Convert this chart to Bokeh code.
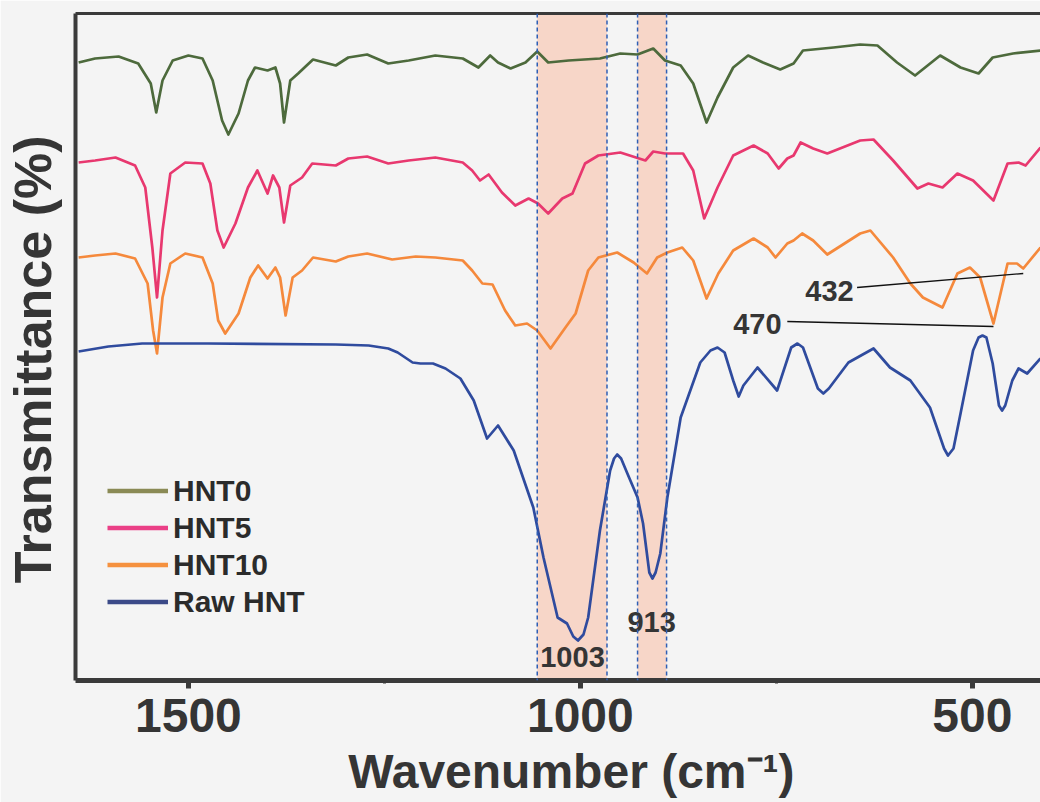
from bokeh.plotting import figure
from bokeh.models import (Range1d, FixedTicker, LinearAxis, Legend, LegendItem,
                          BoxAnnotation, Span)
from bokeh.core.properties import value
from bokeh.embed import file_html
from bokeh.resources import INLINE

# ---------------- data ----------------
# wavenumber (cm-1) and relative transmittance (offset traces, a.u.)
wn_hnt0 = [1640, 1619, 1589, 1564, 1548, 1541, 1533, 1520, 1500, 1482, 1469, 1457, 1449, 1436,
           1424, 1415, 1399, 1389, 1383, 1378, 1370, 1360, 1341, 1312, 1296, 1272, 1245, 1219,
           1185, 1150, 1130, 1115, 1105, 1089, 1070, 1055, 1041, 1015, 975, 949, 927, 907, 892,
           872, 856, 839, 825, 805, 786, 767, 745, 728, 716, 677, 643, 621, 596, 573, 541, 515,
           492, 474, 448, 413]
t_hnt0 = [618, 622, 624, 617, 597, 568, 600, 620, 625, 622, 600, 560, 546, 567,
          600, 613, 610, 613, 597, 558, 600, 607, 621, 615, 623, 626, 617, 620,
          625, 622, 613, 625, 618, 612, 618, 629, 618, 620, 622, 627, 626, 632, 620,
          615, 597, 558, 583, 613, 625, 618, 611, 617, 630, 633, 636, 635, 618, 605, 625, 613,
          607, 623, 627, 630]

wn_hnt5 = [1640, 1619, 1593, 1568, 1555, 1546, 1540, 1533, 1523, 1504, 1482, 1472, 1463, 1455,
           1440, 1424, 1412, 1399, 1392, 1384, 1378, 1370, 1355, 1342, 1312, 1296, 1272, 1245,
           1219, 1185, 1150, 1138, 1128, 1117, 1100, 1083, 1066, 1054, 1041, 1023, 1010, 994,
           977, 949, 917, 907, 892, 869, 856, 842, 825, 805, 779, 761, 747, 736, 728, 719, 703,
           685, 643, 626, 601, 570, 556, 538, 519, 499, 473, 455, 441, 432, 413]
t_hnt5 = [518, 520, 523, 515, 493, 433, 383, 450, 507, 518, 517, 497, 450, 433,
          457, 493, 510, 487, 505, 493, 458, 495, 503, 517, 515, 522, 524, 517,
          520, 523, 518, 510, 500, 506, 488, 475, 482, 477, 467, 482, 487, 517,
          525, 528, 520, 529, 527, 527, 510, 462, 493, 525, 535, 527, 512, 522, 525, 538, 532,
          527, 540, 541, 520, 492, 497, 493, 507, 500, 480, 517, 518, 515, 533]

wn_hnt10 = [1640, 1619, 1593, 1568, 1552, 1545, 1540, 1533, 1523, 1504, 1482, 1469, 1462, 1453,
            1436, 1421, 1411, 1399, 1389, 1383, 1376, 1367, 1355, 1341, 1312, 1296, 1272, 1240,
            1210, 1185, 1150, 1138, 1125, 1112, 1096, 1083, 1068, 1055, 1038, 1019, 1006, 990,
            977, 953, 932, 915, 902, 889, 870, 856, 839, 824, 805, 779, 761, 751, 736, 728, 717,
            703, 685, 643, 630, 601, 579, 563, 538, 519, 503, 490, 473, 455, 443, 435, 413]
t_hnt10 = [423, 425, 427, 422, 397, 350, 327, 383, 417, 427, 423, 397, 360, 347,
           367, 403, 415, 402, 413, 403, 365, 403, 410, 423, 419, 424, 427, 421,
           424, 423, 420, 410, 397, 396, 370, 355, 357, 350, 332, 353, 367, 410,
           423, 428, 418, 407, 423, 428, 433, 420, 382, 407, 430, 442, 433, 423, 437, 440, 447,
           440, 426, 447, 450, 423, 397, 383, 373, 407, 413, 403, 357, 417, 417, 412, 433]

wn_raw = [1640, 1602, 1559, 1475, 1312, 1270, 1245, 1233, 1214, 1204, 1188, 1172, 1153, 1136,
          1119, 1105, 1085, 1060, 1047, 1029, 1017, 1009, 1003, 996, 990, 975, 962, 957, 953,
          948, 940, 927, 920, 912, 908, 904, 898, 889, 872, 847, 834, 825, 816, 805, 798, 792,
          774, 749, 731, 723, 716, 697, 690, 683, 658, 626, 605, 579, 554, 536, 531, 524, 515,
          499, 492, 487, 482, 474, 466, 462, 458, 449, 441, 430, 413]
t_raw = [329, 334, 337, 337, 336, 335, 332, 328, 318, 317, 317, 312, 302, 280,
         242, 255, 230, 173, 123, 63, 57, 44, 40, 46, 63, 150, 210, 222, 226,
         222, 207, 183, 157, 108, 102, 108, 127, 183, 263, 318, 330, 333, 328, 300, 284, 295,
         313, 290, 333, 337, 333, 292, 287, 292, 318, 332, 313, 300, 273, 232, 225, 232, 267,
         330, 343, 345, 343, 317, 275, 270, 275, 300, 312, 307, 322]

series_names = ["HNT0", "HNT5", "HNT10", "Raw HNT"]
trace_colors = ["#4d6a3c", "#e8386f", "#f5893c", "#2f4b9e"]
legend_colors = ["#8a8a55", "#ea3f86", "#f5913f", "#3b4a88"]

band_left = [1055, 927]
band_right = [966, 890]

x_ticks = [1500, 1000, 500]
x_minor = [1250, 750]

peak_text_c = ["1003"]
peak_x_c = [1010]
peak_y_c = [24]
peak_text_l = ["913", "432", "470"]
peak_x_l = [940, 713, 805]
peak_y_l = [59, 390, 357]

lead_x0 = [647, 736]
lead_y0 = [393, 359]
lead_x1 = [435, 473]
lead_y1 = [407, 354]

FONT = "Liberation Sans"
TXT = "#353535"
AX = "#3a3a3a"
BG = "#f4f4f4"
NAN = float("nan")

p = figure(width=1040, height=802, x_range=Range1d(1644, 413), y_range=Range1d(0, 667),
           output_backend="svg", toolbar_location=None,
           min_border_left=75, min_border_right=0, min_border_top=13, min_border_bottom=122)
p.grid.visible = False
p.outline_line_color = None
p.background_fill_color = BG
p.border_fill_color = BG

# x axis
xa = p.xaxis[0]
xa.ticker = FixedTicker(ticks=x_ticks, minor_ticks=x_minor)
xa.axis_line_width = 5
xa.axis_line_color = AX
xa.major_tick_line_width = 5
xa.major_tick_line_color = AX
xa.major_tick_out = 8
xa.major_tick_in = 0
xa.minor_tick_line_width = 3
xa.minor_tick_line_color = AX
xa.minor_tick_out = 3
xa.minor_tick_in = 0
xa.major_label_text_font = FONT
xa.major_label_text_font_style = "bold"
xa.major_label_text_font_size = "48px"
xa.major_label_text_color = TXT
xa.major_label_standoff = 10
# leading no-break spaces nudge the centred label to the right, as in the reference
xa.axis_label = "\u00a0\u00a0Wavenumber (cm\u207b\u00b9)"
xa.axis_label_text_font = FONT
xa.axis_label_text_font_style = "bold"
xa.axis_label_text_font_size = "48px"
xa.axis_label_text_color = TXT
xa.axis_label_standoff = 10

# y axis
ya = p.yaxis[0]
ya.ticker = FixedTicker(ticks=[])
ya.axis_line_width = 4
ya.axis_line_color = AX
ya.major_tick_out = 0
ya.minor_tick_out = 0
ya.major_label_standoff = 0
ya.axis_label = "Transmittance (%)\u00a0\u2009"
ya.axis_label_text_font = FONT
ya.axis_label_text_font_style = "bold"
ya.axis_label_text_font_size = "52px"
ya.axis_label_text_color = TXT
ya.axis_label_standoff = 14

# top border
top = LinearAxis(ticker=FixedTicker(ticks=[]), axis_line_width=3, axis_line_color=AX,
                 major_tick_out=0, minor_tick_out=0, major_label_standoff=0)
p.add_layout(top, "above")

# shaded bands and dashed guides
for l, r in zip(band_left, band_right):
    p.add_layout(BoxAnnotation(left=l, right=r, fill_color="#f7d3c3", fill_alpha=0.9,
                               line_color=None, level="underlay"))
for loc in band_left + band_right:
    p.add_layout(Span(location=loc, dimension="height", line_color="#2f5fb5",
                      line_dash="4 3", line_width=1.5))

# traces
xs = [wn_hnt0, wn_hnt5, wn_hnt10, wn_raw]
ys = [t_hnt0, t_hnt5, t_hnt10, t_raw]
for x, y, c in zip(xs, ys, trace_colors):
    p.line(x, y, line_color=c, line_width=2.7, line_join="round")

# legend (swatches use the legend colours of the reference)
items = []
for name, c in zip(series_names, legend_colors):
    r = p.line(x=[NAN], y=[NAN], line_color=c, line_width=4.5)
    items.append(LegendItem(label=name, renderers=[r]))
leg = Legend(items=items, location=(32, 60), glyph_width=61, glyph_height=37,
             label_height=37, label_standoff=5, spacing=0, padding=0, margin=0,
             border_line_color=None, background_fill_alpha=0,
             label_text_font=FONT, label_text_font_style="bold",
             label_text_font_size="30px", label_text_color="#2b2b2b")
p.add_layout(leg)

# peak annotations
p.text(x=peak_x_c, y=peak_y_c, text=peak_text_c, text_font=value(FONT),
       text_font_style="bold", text_font_size="29px", text_color=TXT,
       text_align="center", text_baseline="middle")
p.text(x=peak_x_l, y=peak_y_l, text=peak_text_l, text_font=value(FONT),
       text_font_style="bold", text_font_size="29px", text_color=TXT,
       text_align="left", text_baseline="middle")
p.segment(x0=lead_x0, y0=lead_y0, x1=lead_x1, y1=lead_y1, line_color="#111111",
          line_width=1.3)

open("out.html", "w").write(file_html(p, INLINE))
